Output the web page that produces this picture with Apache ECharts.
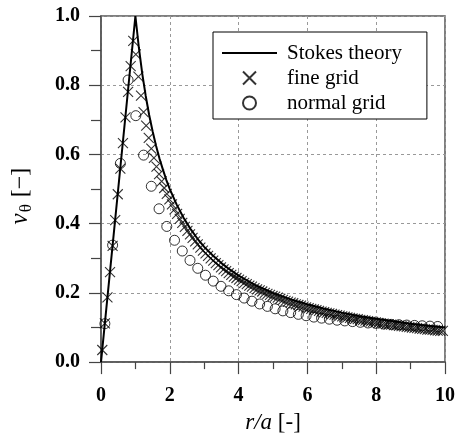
<!DOCTYPE html>
<html><head><meta charset="utf-8">
<script src="https://cdn.jsdelivr.net/npm/echarts@6/dist/echarts.min.js"></script>
<style>html,body{margin:0;padding:0;background:#fff}#c{width:458px;height:439px}</style>
</head><body><div id="c"></div>
<script>
// Stokes theory curve
const theoryX = [0,1,1.1,1.2,1.3,1.4,1.5,1.6,1.7,1.8,1.9,2.0,2.2,2.4,2.6,2.8,3.0,3.25,3.5,3.75,4,4.5,5,5.5,6,6.5,7,7.5,8,8.5,9,9.5,10];
const theoryY = [0,1,0.909,0.833,0.769,0.714,0.667,0.625,0.588,0.556,0.526,0.5,0.455,0.417,0.385,0.357,0.333,0.308,0.286,0.267,0.25,0.222,0.2,0.182,0.167,0.154,0.143,0.133,0.125,0.118,0.111,0.105,0.1];

// fine grid (crosses)
const fineX = [0.0375,0.1125,0.1875,0.2625,0.3375,0.4125,0.4875,0.5625,0.6375,0.7125,0.7875,0.8625,0.9375,1.0125,1.0875,1.1625,1.2375,1.3125,1.3875,1.4625,1.5375,1.6125,1.6875,1.7625,1.8375,1.9125,1.9875,2.0625,2.1375,2.2125,2.2875,2.3625,2.4375,2.5125,2.5875,2.6625,2.7375,2.8125,2.8875,2.9625,3.0375,3.1125,3.1875,3.2625,3.3375,3.4125,3.4875,3.5625,3.6375,3.7125,3.7875,3.8625,3.9375,4.0125,4.0875,4.1625,4.2375,4.3125,4.3875,4.4625,4.5375,4.6125,4.6875,4.7625,4.8375,4.9125,4.9875,5.0625,5.1375,5.2125,5.2875,5.3625,5.4375,5.5125,5.5875,5.6625,5.7375,5.8125,5.8875,5.9625,6.0375,6.1125,6.1875,6.2625,6.3375,6.4125,6.4875,6.5625,6.6375,6.7125,6.7875,6.8625,6.9375,7.0125,7.0875,7.1625,7.2375,7.3125,7.3875,7.4625,7.5375,7.6125,7.6875,7.7625,7.8375,7.9125,7.9875,8.0625,8.1375,8.2125,8.2875,8.3625,8.4375,8.5125,8.5875,8.6625,8.7375,8.8125,8.8875,8.9625,9.0375,9.1125,9.1875,9.2625,9.3375,9.4125,9.4875,9.5625,9.6375,9.7125,9.7875,9.8625,9.9375];
const fineY = [0.035,0.112,0.187,0.260,0.336,0.410,0.485,0.559,0.633,0.707,0.781,0.855,0.928,0.889,0.825,0.770,0.722,0.683,0.648,0.617,0.590,0.565,0.543,0.522,0.503,0.486,0.470,0.456,0.441,0.428,0.414,0.402,0.391,0.379,0.369,0.359,0.349,0.340,0.331,0.322,0.314,0.307,0.300,0.293,0.286,0.280,0.274,0.268,0.263,0.257,0.252,0.247,0.243,0.238,0.234,0.229,0.225,0.221,0.218,0.214,0.210,0.207,0.204,0.200,0.197,0.194,0.191,0.189,0.186,0.183,0.180,0.177,0.175,0.172,0.170,0.167,0.165,0.163,0.160,0.158,0.156,0.154,0.152,0.150,0.148,0.146,0.144,0.142,0.141,0.139,0.137,0.136,0.134,0.132,0.131,0.129,0.128,0.126,0.125,0.124,0.122,0.121,0.120,0.118,0.117,0.116,0.115,0.113,0.112,0.111,0.110,0.109,0.108,0.107,0.106,0.105,0.104,0.103,0.102,0.101,0.100,0.099,0.098,0.097,0.096,0.095,0.094,0.094,0.093,0.092,0.091,0.090,0.090];

// normal grid (circles)
const normalX = [0.1125,0.3375,0.5625,0.7875,1.0125,1.2375,1.4625,1.6875,1.9125,2.1375,2.3625,2.5875,2.8125,3.0375,3.2625,3.4875,3.7125,3.9375,4.1625,4.3875,4.6125,4.8375,5.0625,5.2875,5.5125,5.7375,5.9625,6.1875,6.4125,6.6375,6.8625,7.0875,7.3125,7.5375,7.7625,7.9875,8.2125,8.4375,8.6625,8.8875,9.1125,9.3375,9.5625,9.7875];
const normalY = [0.111,0.338,0.574,0.815,0.712,0.598,0.508,0.443,0.392,0.352,0.321,0.294,0.271,0.251,0.234,0.219,0.206,0.195,0.185,0.176,0.168,0.161,0.154,0.148,0.143,0.138,0.134,0.130,0.127,0.124,0.121,0.119,0.117,0.115,0.113,0.112,0.110,0.109,0.108,0.107,0.106,0.105,0.104,0.103];

const seriesNames = ['Stokes theory','fine grid','normal grid'];
const xLabel = '{i|r/a} [-]';
const yLabel = '{i|v}{s|θ} [−]';

const zip = (a,b) => a.map((v,i)=>[v,b[i]]);
const FONT = '"Liberation Serif","Times New Roman",serif';
const crossPath = 'path://M0,0L10,10M10,0L0,10';
const lineIcon = 'path://M0,0L55,0L55,2L0,2Z';

const chart = echarts.init(document.getElementById('c'), null, {renderer:'canvas'});
chart.setOption({
  animation:false,
  backgroundColor:'#fff',
  grid:{left:100,right:10,top:16,bottom:76,show:true,borderColor:'#555',borderWidth:1.5},
  xAxis:{type:'value',min:0,max:10,interval:2,
    name:xLabel,nameLocation:'middle',nameGap:45,
    nameTextStyle:{fontFamily:FONT,fontSize:23,color:'#000',rich:{i:{fontFamily:FONT,fontSize:23,fontStyle:'italic',color:'#000'}}},
    axisLine:{lineStyle:{color:'#555',width:1.5}},
    axisTick:{inside:false,length:12,lineStyle:{color:'#444',width:1.2}},
    minorTick:{show:true,splitNumber:2,length:7,lineStyle:{color:'#444',width:1.2}},
    axisLabel:{margin:24,fontFamily:FONT,fontSize:20,fontWeight:'bold',color:'#000'},
    splitLine:{show:true,lineStyle:{color:'#999',type:[3,3],width:1}}
  },
  yAxis:{type:'value',min:0,max:1,interval:0.2,
    name:yLabel,nameLocation:'middle',nameGap:66,nameRotate:90,
    nameTextStyle:{fontFamily:FONT,fontSize:24,color:'#000',padding:[0,14,0,0],rich:{
      i:{fontFamily:FONT,fontSize:25,fontStyle:'italic',color:'#000'},
      s:{fontFamily:FONT,fontSize:17,color:'#000',verticalAlign:'bottom',padding:[12,1,0,1]}}},
    axisLine:{lineStyle:{color:'#555',width:1.5}},
    axisTick:{inside:false,length:12,lineStyle:{color:'#444',width:1.2}},
    minorTick:{show:true,splitNumber:2,length:10,lineStyle:{color:'#444',width:1.2}},
    axisLabel:{margin:21,fontFamily:FONT,fontSize:20,fontWeight:'bold',color:'#000',formatter:v=>v.toFixed(1)},
    splitLine:{show:true,lineStyle:{color:'#999',type:[3,3],width:1}}
  },
  legend:{left:213,top:32,orient:'vertical',
    data:[{name:seriesNames[0],icon:lineIcon},seriesNames[1],seriesNames[2]],
    backgroundColor:'#fff',borderColor:'#000',borderWidth:1,
    padding:[10,25,5,9],itemWidth:55,itemHeight:13,itemGap:3,
    textStyle:{fontFamily:FONT,fontSize:21,color:'#000',lineHeight:22,padding:[0,0,0,5]}},
  series:[
    {name:seriesNames[2],type:'scatter',data:zip(normalX,normalY),symbol:'circle',symbolSize:10,
      itemStyle:{color:'none',borderColor:'#000',borderWidth:1},z:2},
    {name:seriesNames[1],type:'scatter',data:zip(fineX,fineY),symbol:crossPath,symbolSize:10,symbolKeepAspect:true,
      itemStyle:{color:'none',borderColor:'#000',borderWidth:1.1},z:3},
    {name:seriesNames[0],type:'line',data:zip(theoryX,theoryY),symbol:'none',
      lineStyle:{color:'#000',width:2},itemStyle:{color:'#000'},z:4}
  ]
});
</script></body></html>
